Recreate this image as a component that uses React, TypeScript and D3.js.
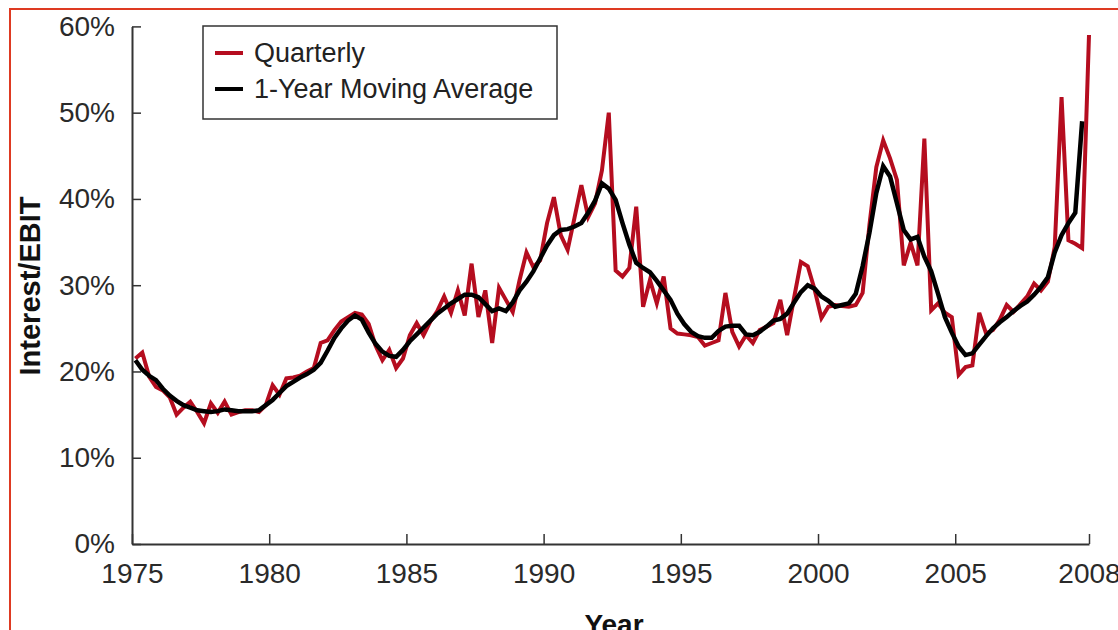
import { useEffect, useRef } from 'react'
import * as d3 from 'd3'

// quarterly interest / EBIT (%), first point 1975 Q1
const quarterly = [
  21.5, 22.2, 19.4, 18.2, 17.8, 17.0, 15.0, 15.8, 16.5, 15.3,
  14.0, 16.3, 15.2, 16.5, 15.0, 15.3, 15.5, 15.5, 15.3, 16.1,
  18.4, 17.3, 19.2, 19.3, 19.5, 20.0, 20.4, 23.3, 23.6, 24.8,
  25.8, 26.3, 26.8, 26.6, 25.5, 23.0, 21.3, 22.5, 20.4, 21.5,
  24.2, 25.6, 24.2, 25.8, 27.0, 28.7, 26.8, 29.4, 26.5, 32.5,
  26.3, 29.4, 23.3, 29.7, 28.3, 26.9, 30.6, 33.8, 32.1, 32.9,
  37.2, 40.2, 35.8, 34.1, 37.8, 41.6, 37.9, 39.5, 43.3, 50.0,
  31.7, 31.0, 32.0, 39.1, 27.5, 30.6, 27.9, 31.0, 25.0, 24.4,
  24.3, 24.2, 24.0, 23.0, 23.3, 23.6, 29.1, 24.6, 22.9, 24.2,
  23.3, 24.8, 25.2, 25.6, 28.3, 24.2, 28.5, 32.7, 32.2, 29.5,
  26.2, 27.5, 27.7, 27.6, 27.5, 27.7, 29.1, 37.0, 43.7, 46.8,
  44.7, 42.2, 32.3, 34.9, 32.3, 47.0, 27.1, 27.9, 26.8, 26.3,
  19.6, 20.5, 20.7, 26.8, 24.4, 24.8, 26.0, 27.7, 26.9, 27.8,
  28.7, 30.2, 29.4, 30.4, 34.4, 51.8, 35.2, 34.8, 34.3, 59.0,
]

const movingAvg = [
  21.3, 20.2, 19.5, 19.0, 18.0, 17.2, 16.6, 16.1, 15.8, 15.5,
  15.4, 15.3, 15.4, 15.6, 15.5, 15.4, 15.4, 15.4, 15.5, 16.1,
  16.7, 17.5, 18.3, 18.8, 19.3, 19.7, 20.2, 21.0, 22.4, 23.9,
  25.0, 25.9, 26.5, 26.0, 24.5, 23.2, 22.3, 21.8, 21.7, 22.5,
  23.5, 24.3, 25.1, 25.9, 26.7, 27.3, 27.9, 28.4, 28.9, 28.9,
  28.6, 27.8, 27.0, 27.3, 27.0, 28.0, 29.4, 30.4, 31.6, 33.1,
  34.6, 35.8, 36.4, 36.5, 36.8, 37.2, 38.4, 39.8, 41.8, 41.2,
  39.9, 37.2, 34.7, 32.6, 32.0, 31.5, 30.5, 29.4, 28.3, 26.7,
  25.5, 24.6, 24.1, 23.9, 23.9, 24.7, 25.2, 25.3, 25.3, 24.3,
  24.2, 24.6, 25.2, 25.9, 26.1, 26.7, 28.0, 29.2, 30.0, 29.6,
  28.7, 28.2, 27.5, 27.7, 27.9, 29.0, 32.2, 36.1, 40.7, 43.8,
  42.6, 39.5, 36.4, 35.3, 35.6, 33.3, 31.6, 29.0, 26.3, 24.5,
  22.9, 21.9, 22.1, 23.1, 24.1, 25.0, 25.7, 26.3, 27.0, 27.6,
  28.1, 28.9, 29.8, 30.9, 33.8, 35.8, 37.2, 38.4, 49.0,
]

const firstQuarter = 1975.125
const xTicks = [1975, 1980, 1985, 1990, 1995, 2000, 2005]
const lastTickLabel = '2008'
const yTicks = [0, 10, 20, 30, 40, 50, 60]
const legendItems = [
  { label: 'Quarterly', color: '#b50d1f' },
  { label: '1-Year Moving Average', color: '#000000' },
]

const FONT = "'Liberation Sans', Arial, Helvetica, sans-serif"

export default function App() {
  const svgRef = useRef<SVGSVGElement>(null)

  useEffect(() => {
    if (!svgRef.current) return
    const svg = d3.select(svgRef.current)
    svg.selectAll('*').remove()

    const xEnd = firstQuarter + (quarterly.length - 1) * 0.25
    const x = d3.scaleLinear().domain([1975, xEnd]).range([132, 1089])
    const y = d3.scaleLinear().domain([0, 60]).range([544, 26.4])

    // red frame around the figure
    svg.append('rect')
      .attr('x', 10).attr('y', 9)
      .attr('width', 1200).attr('height', 700)
      .attr('fill', 'none')
      .attr('stroke', '#de3a22')
      .attr('stroke-width', 2)

    const line = d3.line<number>()
      .x((_d, i) => x(firstQuarter + i * 0.25))
      .y(d => y(d))

    svg.append('path')
      .datum(quarterly)
      .attr('d', line)
      .attr('fill', 'none')
      .attr('stroke', legendItems[0].color)
      .attr('stroke-width', 4)

    svg.append('path')
      .datum(movingAvg)
      .attr('d', line)
      .attr('fill', 'none')
      .attr('stroke', legendItems[1].color)
      .attr('stroke-width', 4.5)

    // axes
    const xAxis = d3.axisBottom(x)
      .tickValues([...xTicks, xEnd])
      .tickFormat(d => (d === xEnd ? lastTickLabel : String(d)))
      .tickSizeInner(-10)
      .tickSizeOuter(0)
      .tickPadding(19)

    const yAxis = d3.axisLeft(y)
      .tickValues(yTicks)
      .tickFormat(d => `${d}%`)
      .tickSizeInner(-9)
      .tickSizeOuter(0)
      .tickPadding(17)

    const gx = svg.append('g').attr('transform', `translate(0,${y(0)})`).call(xAxis)
    const gy = svg.append('g').attr('transform', `translate(${x(1975)},0)`).call(yAxis)

    for (const g of [gx, gy]) {
      g.select('.domain').attr('stroke', '#333').attr('stroke-width', 2)
      g.selectAll('.tick line').attr('stroke', '#333').attr('stroke-width', 1.5)
      g.selectAll('.tick text')
        .attr('fill', '#2a2a2a')
        .attr('font-size', 28)
        .attr('font-family', FONT)
    }

    // axis titles
    svg.append('text')
      .attr('transform', 'translate(40,286) rotate(-90)')
      .attr('text-anchor', 'middle')
      .attr('font-family', FONT)
      .attr('font-weight', 'bold')
      .attr('font-size', 29)
      .attr('fill', '#111')
      .text('Interest/EBIT')

    svg.append('text')
      .attr('x', 614)
      .attr('y', 634)
      .attr('text-anchor', 'middle')
      .attr('font-family', FONT)
      .attr('font-weight', 'bold')
      .attr('font-size', 28)
      .attr('fill', '#111')
      .text('Year')

    // legend
    const legend = svg.append('g')
    legend.append('rect')
      .attr('x', 203).attr('y', 26)
      .attr('width', 354).attr('height', 93)
      .attr('fill', 'white')
      .attr('stroke', '#333')
      .attr('stroke-width', 1.5)

    legendItems.forEach((item, i) => {
      const ly = 53 + i * 36
      legend.append('line')
        .attr('x1', 215).attr('x2', 243)
        .attr('y1', ly).attr('y2', ly)
        .attr('stroke', item.color)
        .attr('stroke-width', 4)
      legend.append('text')
        .attr('x', 254)
        .attr('y', ly + 9)
        .attr('font-family', FONT)
        .attr('font-size', 27)
        .attr('fill', '#222')
        .text(item.label)
    })
  }, [])

  return (
    <svg
      ref={svgRef}
      width={1118}
      height={630}
      style={{ position: 'absolute', left: 0, top: 0, background: 'white' }}
    />
  )
}
